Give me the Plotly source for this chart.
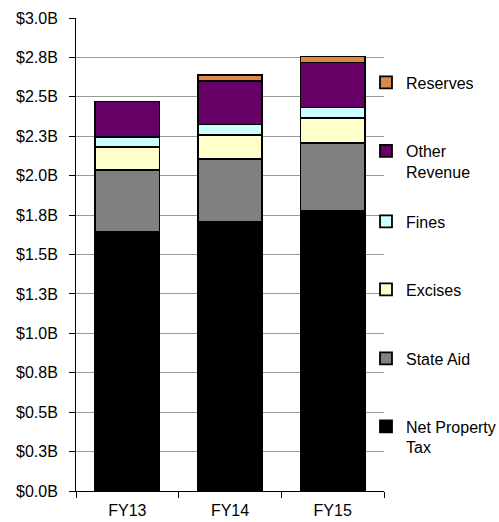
import plotly.graph_objects as go

# Revenue sources by fiscal year, in billions of dollars
years = ["FY13", "FY14", "FY15"]
net_property_tax = [1.641, 1.704, 1.776]
state_aid = [0.393, 0.400, 0.430]
excises = [0.146, 0.154, 0.160]
fines = [0.066, 0.066, 0.066]
other_revenue = [0.224, 0.277, 0.286]
reserves = [None, 0.038, 0.038]

tick_vals = [0, 0.25, 0.5, 0.75, 1.0, 1.25, 1.5, 1.75, 2.0, 2.25, 2.5, 2.75, 3.0]
tick_text = ["$0.0B", "$0.3B", "$0.5B", "$0.8B", "$1.0B", "$1.3B", "$1.5B",
             "$1.8B", "$2.0B", "$2.3B", "$2.5B", "$2.8B", "$3.0B"]

FONT = "Liberation Sans, Arial, sans-serif"

series = [
    ("Net Property<br>Tax", net_property_tax, "#000000", "legend6"),
    ("State Aid", state_aid, "#808080", "legend5"),
    ("Excises", excises, "#FFFFCC", "legend4"),
    ("Fines", fines, "#CCFFFF", "legend3"),
    ("Other<br>Revenue", other_revenue, "#660066", "legend2"),
    ("Reserves", reserves, "#DD8844", "legend"),
]

fig = go.Figure()
for name, vals, color, leg in series:
    fig.add_trace(go.Bar(
        x=years, y=vals, name=name, legend=leg,
        marker=dict(color=color, line=dict(color="#000000", width=1.8)),
    ))

# plot area geometry in pixels
W, H = 499, 522
L, R, T, B = 76, 115, 18, 31
plot_h = H - T - B

def ly(py):
    return 1 - (py - T) / plot_h

legend_x = 1 + (366 - (W - R)) / (W - L - R)
legend_centers = {
    "legend": 82.5, "legend2": 161.5, "legend3": 221.5,
    "legend4": 289.5, "legend5": 358.5, "legend6": 437,
}
legend_layouts = {}
for key, cy in legend_centers.items():
    legend_layouts[key] = dict(
        x=legend_x, xanchor="left", y=ly(cy), yanchor="middle",
        bgcolor="rgba(0,0,0,0)", borderwidth=0, valign="top",
        font=dict(family=FONT, size=16, color="#000000"),
    )

fig.update_layout(
    width=W, height=H,
    margin=dict(l=L, r=R, t=T, b=B, pad=0, autoexpand=False),
    barmode="stack", bargap=0.375,
    plot_bgcolor="#FFFFFF", paper_bgcolor="#FFFFFF",
    font=dict(family=FONT, size=16, color="#000000"),
    showlegend=True,
    **legend_layouts,
)
fig.update_xaxes(
    showline=True, linecolor="#000000", linewidth=1,
    ticks="outside", ticklen=6, tickcolor="#000000", tickson="boundaries",
    showgrid=False, tickfont=dict(family=FONT, size=16),
    ticklabelstandoff=5,
)
fig.update_yaxes(
    range=[0, 3.0], tickvals=tick_vals, ticktext=tick_text,
    showline=True, linecolor="#000000", linewidth=1,
    ticks="outside", ticklen=6, tickcolor="#000000",
    showgrid=True, gridcolor="#999999", gridwidth=1,
    zeroline=False, ticklabelstandoff=8,
    tickfont=dict(family=FONT, size=16),
)

fig.write_html("out.html")
